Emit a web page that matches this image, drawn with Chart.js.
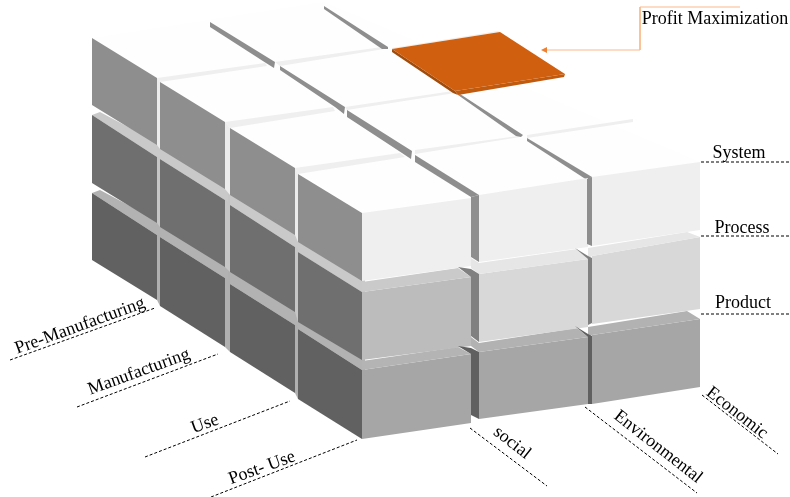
<!DOCTYPE html>
<html>
<head>
<meta charset="utf-8">
<style>
  html, body { margin: 0; padding: 0; background: #fff; }
  #wrap { width: 790px; height: 497px; }
</style>
<script src="https://cdn.jsdelivr.net/npm/chart.js@4"></script>
</head>
<body>
<div id="wrap"><canvas id="myChart" width="790" height="497"></canvas></div>
<script>
// everything below is in picture units, the x and y scales run 0-790 and 0-497

// left side of the block, one entry per life cycle stage
const stageX0 = [92, 160, 230, 298];
const stageX1 = [157, 225, 295, 362];
const leftTop0 = [[38, 82, 128, 174], [115, 159, 205, 252], [193, 237, 284, 329]];
const leftTop1 = [[78, 122, 168, 213], [157, 200, 247, 292], [235, 278, 325, 370]];
const leftBot0 = [[105, 149, 195, 242], [183, 227, 272, 322], [260, 306, 352, 399]];
const leftBot1 = [[145, 189, 235, 281], [223, 267, 312, 360], [300, 347, 393, 439]];
const leftColors = ['#8e8e8e', '#6f6f6f', '#616161'];
const leftBandColors = [null, '#c9c9c9', '#b2b2b2'];
const leftGapColors = ['#ececec', '#c6c6c6', '#b0b0b0'];

// right side of the block, one entry per sustainability pillar
const pillarX0 = [362, 479, 592];
const pillarX1 = [471, 588, 700];
const rightTop0 = [[213, 195, 177], [292, 274, 256], [370, 352, 335]];
const rightTop1 = [[198, 178, 162], [277, 259, 237], [354, 337, 319]];
const rightBot0 = [[281, 262, 246], [360, 342, 324], [439, 419, 404]];
const rightBot1 = [[266, 247, 230], [346, 327, 309], [423, 404, 387]];
const rightColors = [
  ['#efefef', '#efefef', '#efefef'],
  ['#bcbcbc', '#d8d8d8', '#d8d8d8'],
  ['#a6a6a6', '#a6a6a6', '#a6a6a6'],
];
const rightBandColors = [
  [null, null, null],
  ['#cacaca', '#e6e6e6', '#e6e6e6'],
  ['#b4b4b4', '#b2b2b2', '#b2b2b2'],
];
const rightBands = [
  [null, null, null],
  [[[362, 282], [458, 268], [471, 277], [362, 292]], [[471, 258], [479, 263], [577, 249], [588, 259], [479, 274], [471, 268]], [[588, 248], [687, 232], [700, 237], [592, 256], [588, 259]]],
  [[[362, 361], [458, 347], [471, 354], [362, 370]], [[471, 337], [479, 343], [577, 328], [588, 337], [479, 352], [471, 346]], [[588, 327], [687, 311], [700, 319], [592, 335], [588, 337]]],
];

// dark slots between the pillars
const slots = [
  [[[471, 197], [479, 195], [479, 262], [471, 257]], '#8e8e8e'],
  [[[587, 179], [592, 177], [592, 246], [587, 244]], '#8e8e8e'],
  [[[458, 267], [471, 269], [479, 274], [479, 342], [471, 336], [471, 277]], '#808080'],
  [[[575, 248], [588, 256], [592, 258], [592, 323], [588, 325], [588, 259]], '#808080'],
  [[[458, 346], [471, 348], [479, 352], [479, 419], [471, 415], [471, 354]], '#606060'],
  [[[575, 326], [588, 334], [592, 336], [592, 404], [588, 404], [588, 337]], '#606060'],
];

// seams on the top surface
const darkSeams = [
  [[210, 22], [275, 62], [274, 68], [266, 63], [210, 27]],
  [[280, 66], [345, 107], [344, 114], [335, 107], [280, 70]],
  [[347, 110], [412, 151], [411, 159], [402, 153], [347, 117]],
  [[415, 155], [479, 195], [471, 197], [415, 162]],
  [[324, 6], [388, 47], [388, 49], [382, 49], [324, 9]],
  [[460, 94], [523, 135], [521, 137], [516, 136], [458, 95]],
  [[527, 138], [592, 177], [587, 180], [527, 141]],
];
const lightSeams = [
  [[157, 78], [265, 63], [267, 66], [160, 82]],
  [[225, 122], [333, 107], [335, 111], [230, 128]],
  [[295, 168], [400, 153], [405, 157], [298, 174]],
  [[275, 62], [382, 47], [384, 49], [280, 66]],
  [[345, 107], [453, 91], [455, 93], [347, 110]],
  [[415, 150], [518, 136], [520, 137], [415, 154]],
  [[527, 135], [633, 119], [633, 122], [527, 138]],
  [[392, 48], [498, 31], [500, 32], [392, 49]],
];

const orangeTop = [[392, 49], [500, 32], [565, 74], [455, 91]];
const orangeLeftEdge = [[392, 49], [455, 91], [458, 95], [453, 93], [392, 52]];
const orangeFrontEdge = [[455, 91], [565, 74], [564, 77], [458, 95]];

const calloutLine = [[740, 7], [640, 7], [640, 50], [543, 50]];
const calloutHead = [[541, 50], [547, 47], [547, 53]];

const dashedLines = [
  [[701, 162], [790, 162]],
  [[701, 236], [790, 236]],
  [[701, 314], [790, 314]],
  [[10, 360], [155, 308]],
  [[77, 407], [218, 354]],
  [[145, 457], [290, 401]],
  [[211, 497], [357, 440]],
  [[470, 428], [547, 486]],
  [[585, 407], [697, 493]],
  [[702, 395], [778, 454]],
];

const labelTexts = ['Profit Maximization', 'System', 'Process', 'Product', 'Pre-Manufacturing', 'Manufacturing', 'Use', 'Post- Use', 'social', 'Environmental', 'Economic'];
const labelX = [715, 739, 742, 743, 80, 139, 205, 262, 512, 658, 737];
const labelY = [19, 153, 228, 303, 326, 372, 424, 468, 443, 447, 413];
const labelAngle = [0, 0, 0, 0, -20, -20, -20, -20, 38, 38, 38];

const datasets = [];

function toPoints(list) {
  return list.map(p => ({ x: p[0], y: p[1] }));
}

function addFace(list, color) {
  datasets.push({ data: toPoints(list), faceColor: color, showLine: false, pointRadius: 0 });
}

function addLine(list, color, dash) {
  datasets.push({ data: toPoints(list), showLine: true, borderColor: color, borderWidth: 1, borderDash: dash, pointRadius: 0, fill: false, tension: 0 });
}

// top surface first, then seams
addFace([[92, 38], [324, 2], [700, 162], [362, 213]], '#fefefe');
lightSeams.forEach(s => addFace(s, '#efefef'));
darkSeams.forEach(s => addFace(s, '#8e8e8e'));
addFace(orangeLeftEdge, '#a04c0c');
addFace(orangeFrontEdge, '#c25a0e');
addFace(orangeTop, '#d06010');

// lowest layer first so upper layers cover it
for (let l = 2; l >= 0; l--) {
  const gapLift = l === 0 ? 0 : 13;
  for (let c = 0; c < 4; c++) {
    if (c < 3) {
      addFace([[stageX1[c], leftTop1[l][c] - gapLift], [stageX0[c + 1], leftTop0[l][c + 1] - gapLift], [stageX0[c + 1], leftBot0[l][c + 1]], [stageX1[c], leftBot1[l][c]]], leftGapColors[l]);
    }
    if (leftBandColors[l]) {
      const x0 = c === 0 ? stageX0[c] + 8 : stageX0[c];
      const y0 = c === 0 ? leftTop0[l][c] - 3 : leftTop0[l][c] - 13;
      addFace([[stageX0[c], leftTop0[l][c]], [x0, y0], [stageX1[c] + 3, leftTop1[l][c] - 13], [stageX1[c] + 3, leftTop1[l][c] + 2], [stageX1[c], leftTop1[l][c]]], leftBandColors[l]);
    }
    addFace([[stageX0[c], leftTop0[l][c]], [stageX1[c], leftTop1[l][c]], [stageX1[c], leftBot1[l][c]], [stageX0[c], leftBot0[l][c]]], leftColors[l]);
  }
  for (let p = 0; p < 3; p++) {
    addFace([[pillarX0[p], rightTop0[l][p]], [pillarX1[p], rightTop1[l][p]], [pillarX1[p], rightBot1[l][p]], [pillarX0[p], rightBot0[l][p]]], rightColors[l][p]);
    if (rightBands[l][p]) addFace(rightBands[l][p], rightBandColors[l][p]);
  }
}
slots.forEach(s => addFace(s[0], s[1]));

addLine(calloutLine, '#fbb98a');
addFace(calloutHead, '#f08030');
dashedLines.forEach(d => addLine(d, '#000', [3, 2]));

// chart.js paints the highest order first
datasets.forEach((d, i) => { d.order = datasets.length - i; });

const facePlugin = {
  id: 'facePlugin',
  beforeDatasetDraw(chart, args) {
    const ds = chart.data.datasets[args.index];
    if (!ds.faceColor) return;
    const ctx = chart.ctx;
    ctx.save();
    ctx.beginPath();
    args.meta.data.forEach((pt, i) => {
      if (i === 0) ctx.moveTo(pt.x, pt.y);
      else ctx.lineTo(pt.x, pt.y);
    });
    ctx.closePath();
    ctx.fillStyle = ds.faceColor;
    ctx.fill();
    ctx.restore();
  },
};

const labelPlugin = {
  id: 'labelPlugin',
  afterDraw(chart) {
    const ctx = chart.ctx;
    labelTexts.forEach((t, i) => {
      ctx.save();
      ctx.translate(chart.scales.x.getPixelForValue(labelX[i]), chart.scales.y.getPixelForValue(labelY[i]));
      ctx.rotate(labelAngle[i] * Math.PI / 180);
      ctx.font = '18px "Liberation Serif"';
      ctx.fillStyle = '#000';
      ctx.textAlign = 'center';
      ctx.textBaseline = 'middle';
      ctx.fillText(t, 0, 0);
      ctx.restore();
    });
  },
};

new Chart(document.getElementById('myChart'), {
  type: 'scatter',
  data: { datasets: datasets },
  options: {
    responsive: false,
    animation: false,
    layout: { padding: 0 },
    plugins: { legend: { display: false }, tooltip: { enabled: false } },
    scales: {
      x: { type: 'linear', min: 0, max: 790, display: false },
      y: { type: 'linear', min: 0, max: 497, reverse: true, display: false },
    },
  },
  plugins: [facePlugin, labelPlugin],
});
</script>
</body>
</html>
